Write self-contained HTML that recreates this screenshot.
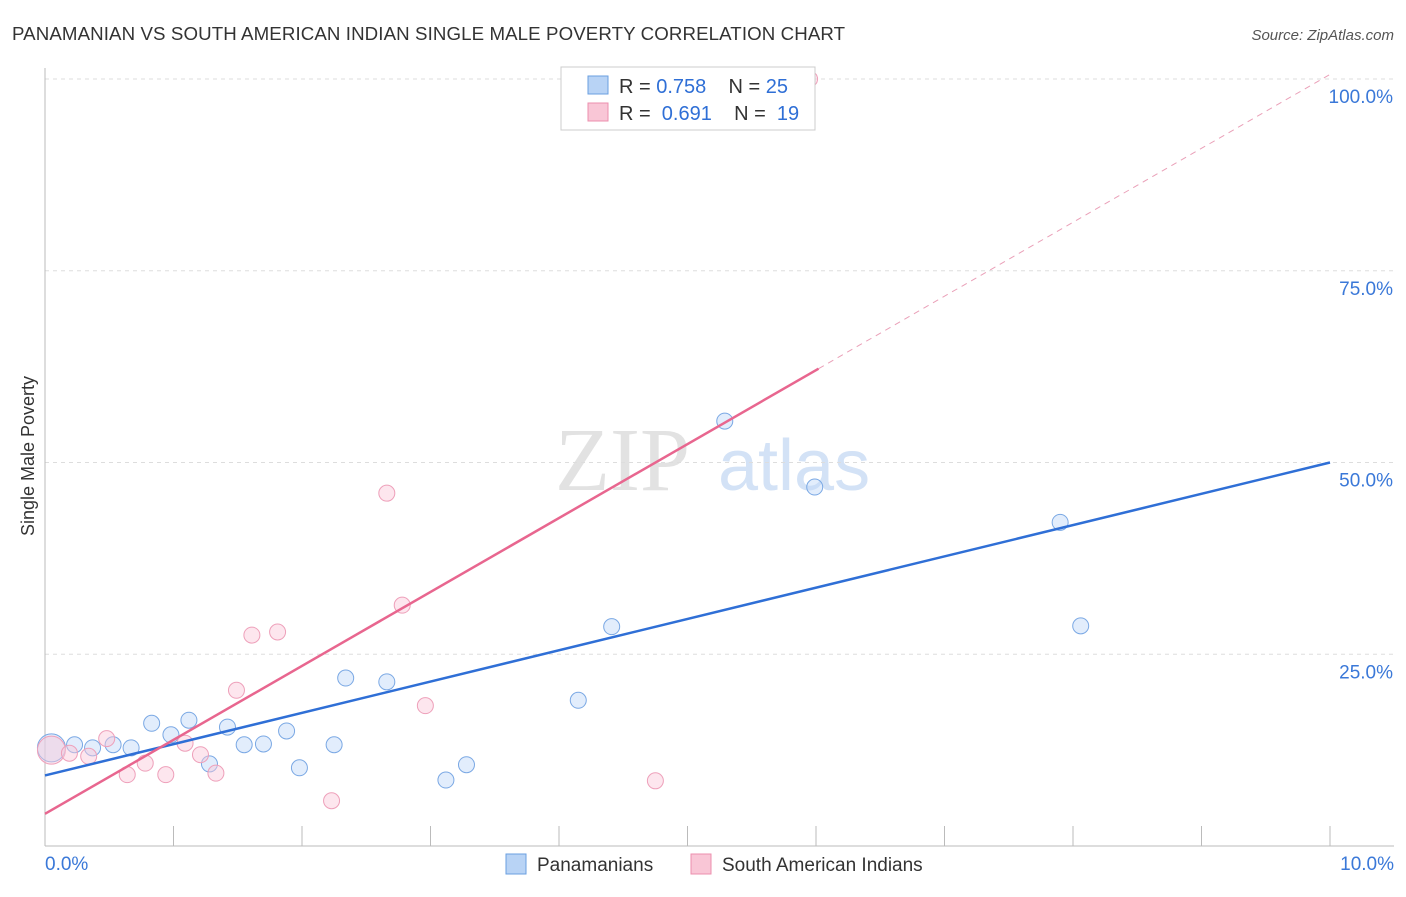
<!DOCTYPE html>
<html><head><meta charset="utf-8"><style>
body{margin:0;background:#fff;font-family:"Liberation Sans",sans-serif;}
#wrap{position:relative;width:1406px;height:892px;}
</style></head><body>
<div id="wrap">
<svg id="svg" width="1406" height="892" xmlns="http://www.w3.org/2000/svg">
<text x="12" y="40" font-size="18.7" letter-spacing="0.1" fill="#333">PANAMANIAN VS SOUTH AMERICAN INDIAN SINGLE MALE POVERTY CORRELATION CHART</text>
<text x="1394" y="40" font-size="15" fill="#555" font-style="italic" text-anchor="end">Source: ZipAtlas.com</text>
<text x="34" y="456" font-size="18" fill="#333" text-anchor="middle" transform="rotate(-90 34 456)">Single Male Poverty</text>
<g><text x="555" y="490" font-size="90" fill="#e2e2e2" font-family="Liberation Serif">ZIP</text><text x="718" y="490" font-size="72" fill="#d3e2f6">atlas</text></g>
<g id="grid"></g><g id="axes"></g><g id="marks"></g>
<g>
<rect x="561" y="67" width="254" height="63" fill="#fff" stroke="#ccc"/>
<rect x="588" y="76" width="20" height="18" fill="#b8d3f5" stroke="#6a9fe0"/>
<rect x="588" y="103" width="20" height="18" fill="#f9c6d6" stroke="#ec8fae"/>
<text x="619" y="93" font-size="20" fill="#333">R = <tspan fill="#2f6fd6">0.758</tspan>&#160;&#160;&#160; N = <tspan fill="#2f6fd6">25</tspan></text>
<text x="619" y="120" font-size="20" fill="#333">R = &#160;<tspan fill="#2f6fd6">0.691</tspan>&#160;&#160;&#160; N = &#160;<tspan fill="#2f6fd6">19</tspan></text>
</g>
<g>
<rect x="506" y="854" width="20" height="20" fill="#b8d3f5" stroke="#6a9fe0"/>
<text x="537" y="871" font-size="19" fill="#333">Panamanians</text>
<rect x="691" y="854" width="20" height="20" fill="#f9c6d6" stroke="#ec8fae"/>
<text x="722" y="871" font-size="19" fill="#333">South American Indians</text>
</g>
</svg></div>
<script>
const blueX=[0.05,0.23,0.37,0.53,0.67,0.83,0.98,1.12,1.28,1.42,1.55,1.70,1.88,1.98,2.25,2.34,2.66,3.12,3.28,4.15,4.41,5.29,5.99,7.90,8.06];
const blueY=[12.8,13.2,12.8,13.2,12.8,16.0,14.5,16.4,10.7,15.5,13.2,13.3,15.0,10.2,13.2,21.9,21.4,8.6,10.6,19.0,28.6,55.4,46.8,42.2,28.7];
const pinkX=[0.05,0.19,0.34,0.48,0.64,0.78,0.94,1.09,1.21,1.33,1.49,1.61,1.81,2.23,2.66,2.78,2.96,4.75,5.95];
const pinkY=[12.5,12.1,11.7,14.0,9.3,10.8,9.3,13.4,11.9,9.5,20.3,27.5,27.9,5.9,46.0,31.4,18.3,8.5,100];
const yTicks=[25,50,75,100];
const yTickLabels=["25.0%","50.0%","75.0%","100.0%"];
const xEnds=["0.0%","10.0%"];
const blueFit=[9.2,50.0];
const pinkFit=[4.2,100.6];
const pinkSolidEnd=6.02;
const sx=v=>45+v/10*1285, sy=v=>846-v/100*767;
const NS="http://www.w3.org/2000/svg";
function el(p,t,a){const e=document.createElementNS(NS,t);for(const k in a)e.setAttribute(k,a[k]);p.appendChild(e);return e;}
const grid=document.getElementById('grid'),axes=document.getElementById('axes'),marks=document.getElementById('marks');
yTicks.forEach((t,i)=>{const g=el(grid,'line',{x1:45,x2:1394,y1:sy(t),y2:sy(t),stroke:'#ddd','stroke-dasharray':'4,4'});


const tx=el(axes,'text',{x:1393,y:sy(t)+24,'font-size':19,fill:'#3a78d8','text-anchor':'end'});tx.textContent=yTickLabels[i];

});
el(axes,'line',{x1:45,x2:45,y1:68,y2:846,stroke:'#bbb'});
el(axes,'line',{x1:45,x2:1394,y1:846,y2:846,stroke:'#bbb'});
for(let i=1;i<=10;i++){const l=el(axes,'line',{x1:sx(i),x2:sx(i),y1:826,y2:846,stroke:'#bbb'});

}
[[0,45,'start'],[10,1394,'end']].forEach((d,i)=>{const t=el(axes,'text',{x:d[1],y:870,'font-size':19,fill:'#3a78d8','text-anchor':d[2]});t.textContent=xEnds[i];

});
blueX.forEach((x,i)=>{const c=el(marks,'circle',{cx:sx(x),cy:sy(blueY[i]),r:i==0?14:8,fill:'rgba(190,215,248,0.45)',stroke:'#7aa8e4','stroke-width':1});

});
pinkX.forEach((x,i)=>{const c=el(marks,'circle',{cx:sx(x),cy:sy(pinkY[i]),r:i==0?14:8,fill:'rgba(250,200,218,0.45)',stroke:'#eea0ba','stroke-width':1});

});
const bl=el(marks,'line',{x1:sx(0),y1:sy(blueFit[0]),x2:sx(10),y2:sy(blueFit[1]),stroke:'#2f6fd6','stroke-width':2.5});


const pf=x=>pinkFit[0]+(pinkFit[1]-pinkFit[0])*x/10;
const pl=el(marks,'line',{x1:sx(0),y1:sy(pf(0)),x2:sx(pinkSolidEnd),y2:sy(pf(pinkSolidEnd)),stroke:'#e8668f','stroke-width':2.5});


const pd=el(marks,'line',{x1:sx(pinkSolidEnd),y1:sy(pf(pinkSolidEnd)),x2:sx(10),y2:sy(pf(10)),stroke:'#eaa0b8','stroke-width':1,'stroke-dasharray':'6,5'});


</script>
</body></html>
